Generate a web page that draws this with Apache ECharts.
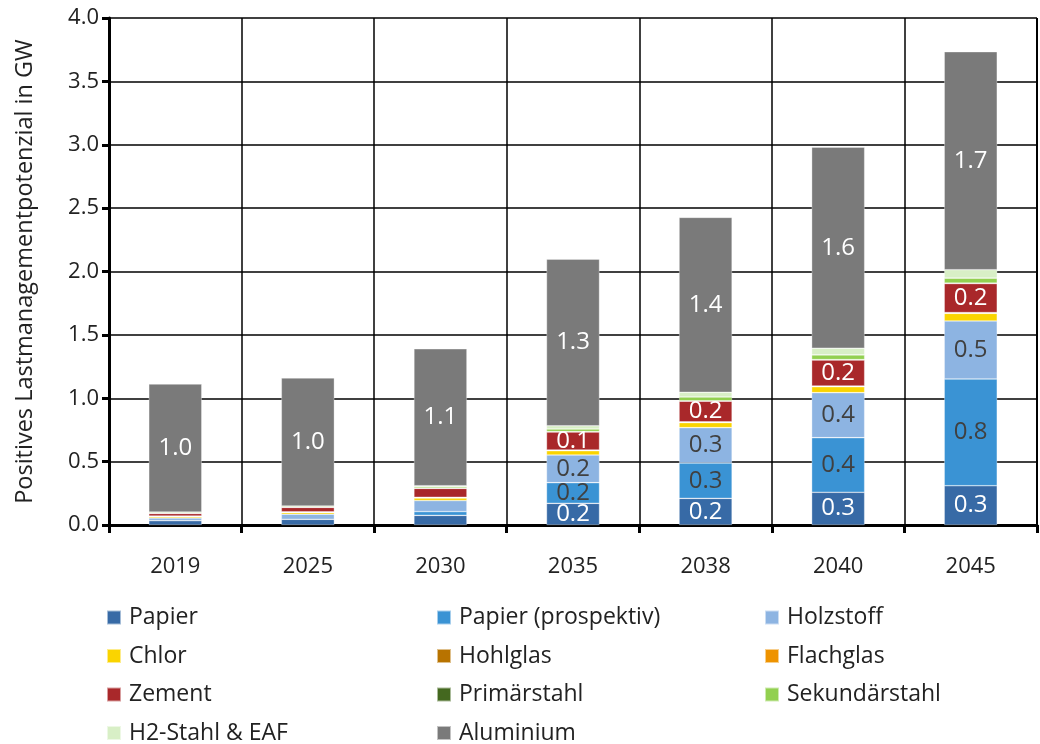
<!DOCTYPE html>
<html>
<head>
<meta charset="utf-8">
<script src="https://cdn.jsdelivr.net/npm/echarts@6/dist/echarts.min.js"></script>
<style>
  html, body { margin: 0; padding: 0; background: #fff; }
  #main { width: 1040px; height: 744px; }
</style>
</head>
<body>
<div id="main"></div>
<script>
var years = ['2019', '2025', '2030', '2035', '2038', '2040', '2045'];

var papier        = [0.035, 0.045, 0.076, 0.171, 0.210, 0.258, 0.310];
var papierProsp   = [0.000, 0.000, 0.030, 0.163, 0.279, 0.431, 0.842];
var holzstoff     = [0.020, 0.040, 0.087, 0.218, 0.279, 0.355, 0.458];
var chlor         = [0.010, 0.013, 0.020, 0.034, 0.040, 0.047, 0.060];
var hohlglas      = [0.003, 0.003, 0.003, 0.003, 0.003, 0.003, 0.003];
var flachglas     = [0.003, 0.003, 0.003, 0.003, 0.003, 0.003, 0.003];
var zement        = [0.020, 0.035, 0.070, 0.142, 0.163, 0.205, 0.229];
var primaerstahl  = [0.003, 0.003, 0.003, 0.003, 0.003, 0.003, 0.003];
var sekundaerstahl= [0.008, 0.008, 0.010, 0.020, 0.030, 0.037, 0.040];
var h2Stahl       = [0.000, 0.000, 0.008, 0.026, 0.037, 0.053, 0.066];
var aluminium     = [1.010, 1.010, 1.080, 1.315, 1.380, 1.586, 1.720];

var names = ['Papier', 'Papier (prospektiv)', 'Holzstoff', 'Chlor', 'Hohlglas', 'Flachglas',
             'Zement', 'Primärstahl', 'Sekundärstahl', 'H2-Stahl & EAF', 'Aluminium'];
var values = [papier, papierProsp, holzstoff, chlor, hohlglas, flachglas,
              zement, primaerstahl, sekundaerstahl, h2Stahl, aluminium];
var colors = ['#376aa6', '#3a93d4', '#8db4e2', '#fad400', '#b87300', '#ee9300',
              '#a9282a', '#44681f', '#92d050', '#d8efc6', '#7a7a7a'];
var labelColors = ['#ffffff', '#404040', '#404040', '#404040', '#404040', '#404040',
                   '#ffffff', '#ffffff', '#404040', '#404040', '#ffffff'];

var font = 'Open Sans';

var series = names.map(function (n, i) {
  return {
    name: n,
    type: 'bar',
    stack: 'total',
    barWidth: '40%',
    data: values[i],
    itemStyle: { color: colors[i], borderColor: 'rgba(255,255,255,0.55)', borderWidth: 0.6 },
    label: {
      show: true,
      position: 'inside',
      color: labelColors[i],
      fontFamily: font,
      fontSize: 24,
      formatter: function (p) { return p.value >= 0.095 ? p.value.toFixed(1) : ''; }
    },
    emphasis: { disabled: true }
  };
});

var legendCols = [
  { left: 106, data: ['Papier', 'Chlor', 'Zement', 'H2-Stahl & EAF'] },
  { left: 436, data: ['Papier (prospektiv)', 'Hohlglas', 'Primärstahl', 'Aluminium'] },
  { left: 764, data: ['Holzstoff', 'Flachglas', 'Sekundärstahl'] }
];

var chart = echarts.init(document.getElementById('main'));

var option = {
  animation: false,
  backgroundColor: '#ffffff',
  color: colors,
  grid: { left: 109, right: 3, top: 18, bottom: 219 },
  legend: legendCols.map(function (c) {
    return {
      orient: 'vertical',
      left: c.left,
      top: 606,
      width: 300,
      height: 200,
      padding: 0,
      itemWidth: 14,
      itemHeight: 14,
      itemGap: 15.5,
      icon: 'rect',
      selectedMode: false,
      data: c.data,
      textStyle: { fontFamily: font, fontSize: 23, color: '#222', padding: [0, 0, 0, 3] }
    };
  }),
  xAxis: {
    type: 'category',
    data: years,
    axisLine: { show: true, lineStyle: { color: '#000', width: 3 } },
    axisTick: { show: true, alignWithLabel: false, length: 8, lineStyle: { color: '#000', width: 3 } },
    axisLabel: { fontFamily: font, fontSize: 22, color: '#222', margin: 31 },
    splitLine: { show: true, interval: 0, lineStyle: { color: '#000', width: 1.5 } }
  },
  yAxis: {
    type: 'value',
    min: 0,
    max: 4,
    interval: 0.5,
    name: 'Positives Lastmanagementpotenzial in GW',
    nameLocation: 'middle',
    nameGap: 72,
    nameTextStyle: { fontFamily: font, fontSize: 23.5, color: '#222' },
    axisLine: { show: true, lineStyle: { color: '#000', width: 3 } },
    axisTick: { show: true, length: 7, lineStyle: { color: '#000', width: 3 } },
    axisLabel: {
      fontFamily: font, fontSize: 22, color: '#222', margin: 10,
      formatter: function (v) { return v.toFixed(1); }
    },
    splitLine: { show: true, lineStyle: { color: '#000', width: 1.5 } }
  },
  series: series.concat([{
    type: 'line',
    data: [],
    markLine: { silent: true, symbol: 'none', label: { show: false },
      lineStyle: { color: '#000', width: 2, type: 'solid' },
      data: [[{ x: 1037, y: 18 }, { x: 1037, y: 525 }]] }
  }])
};

chart.setOption(option);
</script>
</body>
</html>
